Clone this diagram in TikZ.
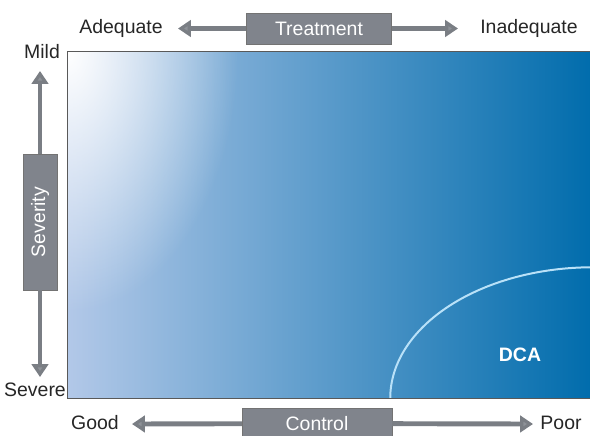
\documentclass[tikz,border=0pt]{standalone}
\usepackage{fontspec}
\setmainfont{Liberation Sans}
\usetikzlibrary{positioning,arrows.meta,fadings}

\definecolor{boxgray}{RGB}{128,132,140}
\definecolor{arrowgray}{RGB}{122,126,132}
\definecolor{headgray}{RGB}{142,146,152}
\definecolor{paleblue}{RGB}{178,200,232}
\definecolor{midblue}{RGB}{108,158,210}
\definecolor{deepblue}{RGB}{0,108,172}
\definecolor{arcblue}{RGB}{185,225,248}

\tikzfading[name=glow, inner color=transparent!0, outer color=transparent!100]

\begin{document}
\begin{tikzpicture}[
    x=0.03cm, y=-0.03cm,
    lbl/.style={font=\fontsize{16.6}{18}\selectfont, text=black!85},
    axisbox/.style={draw=black!55, fill=boxgray, text=white, font=\fontsize{16.6}{18}\selectfont, inner sep=0pt},
    axisarr/.style={draw=arrowgray, line width=4.2pt, -{Triangle[length=11pt,width=14pt,fill=headgray]}},
    field/.style={minimum width=15.75cm, minimum height=10.38cm, inner sep=0pt,
        left color=paleblue, middle color=midblue, right color=deepblue}
]
\useasboundingbox (0,0) rectangle (590,435);

% shaded field with the DCA region
\node[field] (field) at (330.5,225) {};
\begin{scope}
    \clip (field.north west) rectangle (field.south east);
    \fill[white, path fading=glow] (field.north west) ellipse [x radius=170, y radius=260];
    \draw[arcblue, line width=1.7pt] (field.south east) ellipse [x radius=203, y radius=131];
\end{scope}
\draw[black!65, line width=1.2pt] (field.north east) -- (field.north west) -- (field.south west) -- (field.south east);
\node[font=\fontsize{16.6}{18}\selectfont\bfseries, text=white] (dca) at (520,355) {DCA};

% treatment axis
\node[axisbox, minimum width=4.35cm, minimum height=0.93cm] (treat) at (319,28.5) {Treatment};
\node[lbl] (adeq) at (121,28) {Adequate};
\node[lbl] (inadeq) at (529,28) {Inadequate};
\coordinate (treatL) at (178,28.5);
\coordinate (treatR) at (458,28.5);
\draw[axisarr] (treat) -- (treatL);
\draw[axisarr] (treat) -- (treatR);

% control axis
\node[axisbox, minimum width=4.5cm, minimum height=0.93cm] (ctrl) at (317,423.5) {Control};
\node[lbl] (good) at (95,423) {Good};
\node[lbl] (poor) at (561,423) {Poor};
\coordinate (ctrlL) at (132,424);
\coordinate (ctrlR) at (533,424);
\draw[axisarr] (ctrl) -- (ctrlL);
\draw[axisarr] (ctrl) -- (ctrlR);

% severity axis
\node[axisbox, minimum width=4.08cm, minimum height=1.02cm, rotate=90] (sev) at (40,222) {Severity};
\node[lbl] (mild) at (42,52) {Mild};
\node[lbl] (severe) at (35,390) {Severe};
\coordinate (sevT) at (40,71);
\coordinate (sevB) at (40,377);
\draw[axisarr] (sev) -- (sevT);
\draw[axisarr] (sev) -- (sevB);
\end{tikzpicture}
\end{document}
